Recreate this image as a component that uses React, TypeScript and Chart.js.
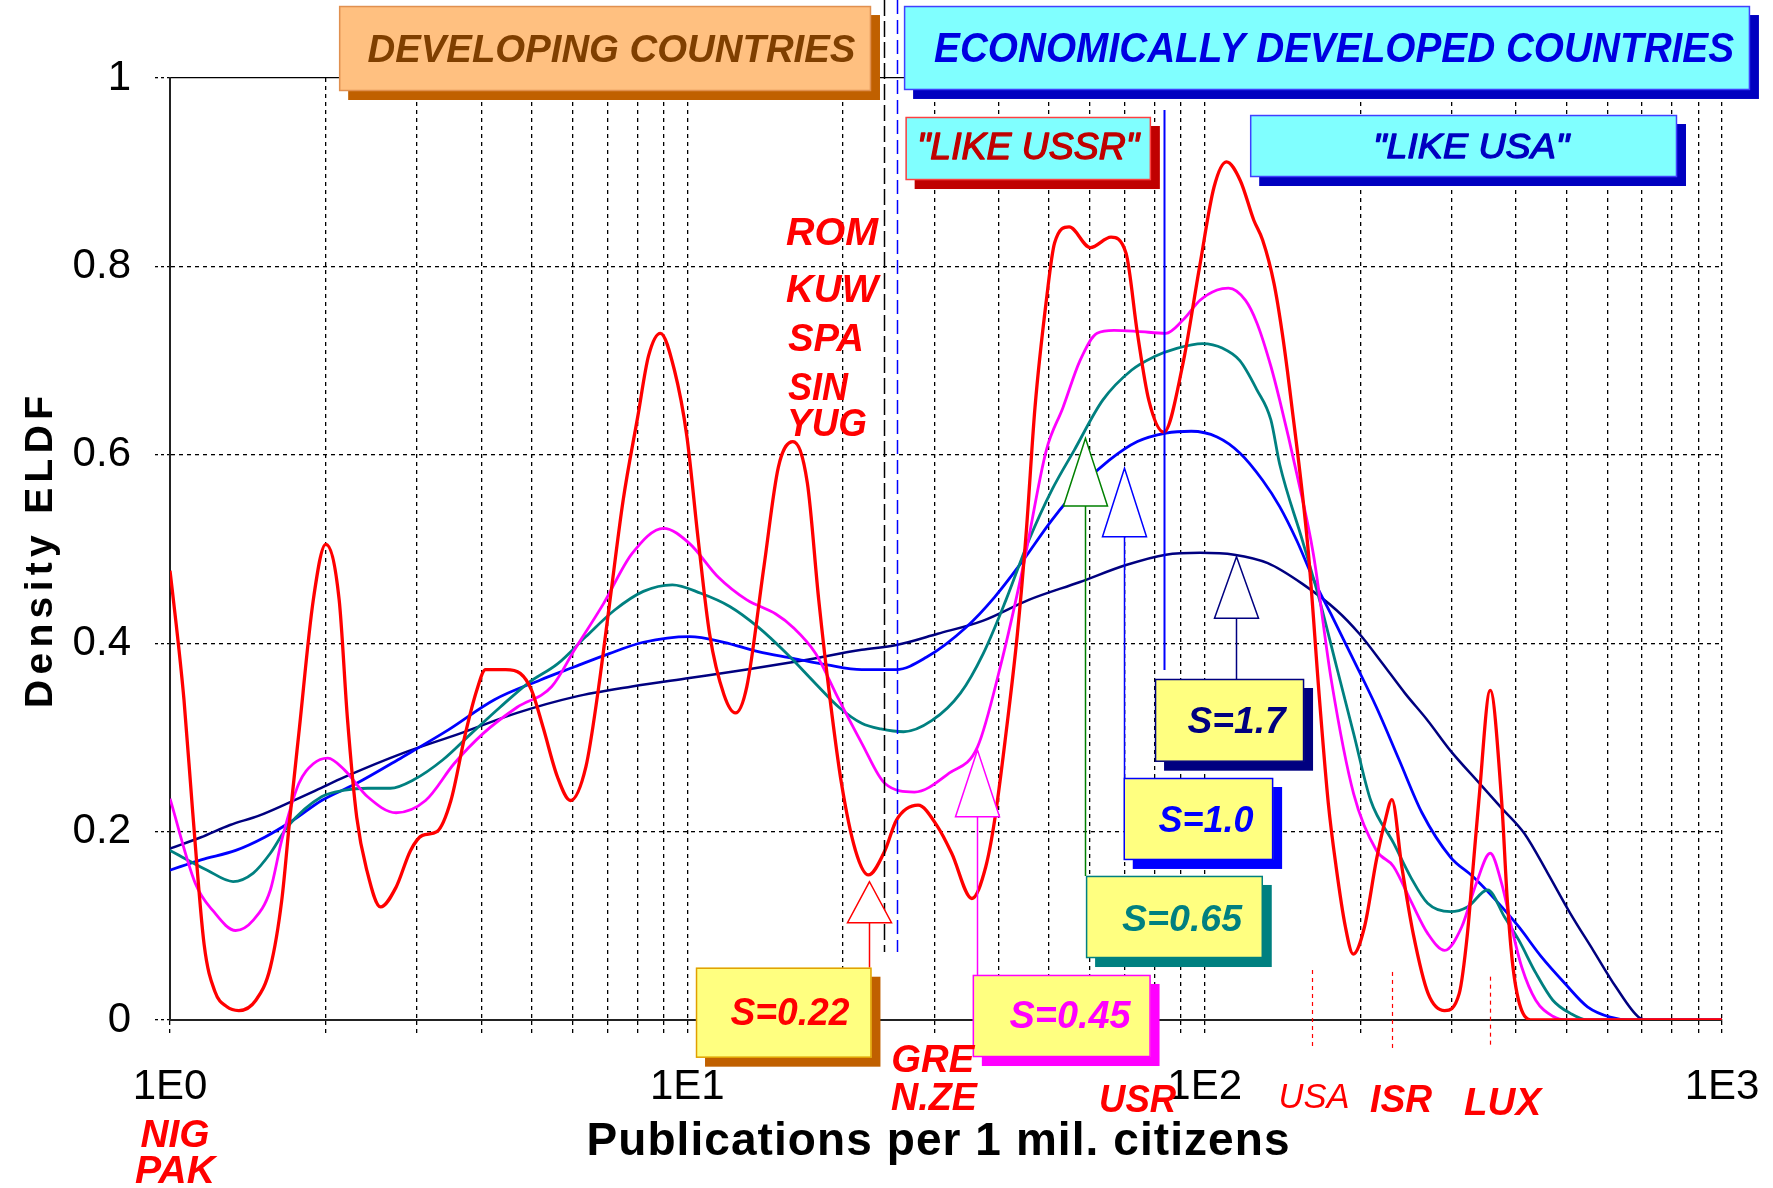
import React, { useEffect, useRef } from "react";
import { Chart, registerables } from "chart.js";

Chart.register(...registerables);

const CANVAS_W = 1773;
const CANVAS_H = 1188;
const FONT = "'Liberation Sans', Arial, sans-serif";
const NARROW = "'Liberation Sans Narrow', 'Liberation Sans', Arial, sans-serif";

// Each point: [log10(publications per 1 mil. citizens), density ELDF]
const redS022: [number, number][] = [
  [0.0, 0.477], [0.012, 0.42], [0.027, 0.34], [0.044, 0.22], [0.066, 0.08], [0.087, 0.03],
  [0.11, 0.014], [0.133, 0.01], [0.166, 0.021], [0.194, 0.056], [0.216, 0.127], [0.232, 0.216],
  [0.249, 0.304], [0.277, 0.446], [0.301, 0.505], [0.327, 0.446], [0.343, 0.32], [0.361, 0.215],
  [0.38, 0.16], [0.407, 0.12], [0.437, 0.141], [0.465, 0.18], [0.488, 0.196], [0.516, 0.2],
  [0.543, 0.233], [0.571, 0.304], [0.593, 0.35], [0.61, 0.372], [0.649, 0.372], [0.677, 0.368],
  [0.699, 0.35], [0.721, 0.311], [0.749, 0.258], [0.774, 0.233], [0.804, 0.269], [0.827, 0.347],
  [0.849, 0.439], [0.876, 0.552], [0.904, 0.64], [0.925, 0.705], [0.948, 0.729], [0.975, 0.69],
  [0.999, 0.62], [1.021, 0.51], [1.043, 0.41], [1.071, 0.345], [1.093, 0.326], [1.115, 0.354],
  [1.148, 0.481], [1.176, 0.587], [1.204, 0.614], [1.232, 0.57], [1.254, 0.446], [1.276, 0.34],
  [1.298, 0.251], [1.325, 0.18], [1.35, 0.154], [1.382, 0.18], [1.404, 0.212], [1.446, 0.228],
  [1.484, 0.205], [1.511, 0.177], [1.55, 0.129], [1.577, 0.163], [1.594, 0.212], [1.615, 0.3],
  [1.638, 0.41], [1.655, 0.517], [1.672, 0.65], [1.694, 0.764], [1.71, 0.825], [1.738, 0.842],
  [1.779, 0.82], [1.819, 0.831], [1.848, 0.814], [1.87, 0.729], [1.892, 0.658], [1.921, 0.624],
  [1.957, 0.694], [1.99, 0.799], [2.018, 0.884], [2.042, 0.911], [2.069, 0.891], [2.095, 0.849],
  [2.112, 0.828], [2.134, 0.782], [2.15, 0.729], [2.167, 0.658], [2.2, 0.499], [2.222, 0.34],
  [2.239, 0.23], [2.254, 0.163], [2.272, 0.099], [2.287, 0.07], [2.309, 0.099], [2.332, 0.17],
  [2.349, 0.212], [2.362, 0.234], [2.381, 0.163], [2.403, 0.092], [2.432, 0.028], [2.464, 0.01],
  [2.492, 0.028], [2.508, 0.092], [2.519, 0.163], [2.53, 0.233], [2.552, 0.35], [2.574, 0.233],
  [2.585, 0.127], [2.596, 0.056], [2.613, 0.01], [2.635, 0.0], [3.0, 0.0],
];

const magentaS045: [number, number][] = [
  [0.0, 0.235], [0.049, 0.145], [0.083, 0.116], [0.127, 0.095], [0.161, 0.106], [0.194, 0.138],
  [0.216, 0.191], [0.249, 0.251], [0.277, 0.272], [0.305, 0.278], [0.338, 0.265], [0.382, 0.237],
  [0.437, 0.22], [0.494, 0.233], [0.549, 0.272], [0.605, 0.304], [0.671, 0.332], [0.738, 0.354],
  [0.782, 0.393], [0.838, 0.442], [0.893, 0.495], [0.954, 0.522], [1.004, 0.506], [1.06, 0.47],
  [1.115, 0.446], [1.171, 0.431], [1.204, 0.417], [1.248, 0.389], [1.293, 0.34], [1.337, 0.294],
  [1.382, 0.251], [1.439, 0.242], [1.506, 0.262], [1.561, 0.29], [1.605, 0.375], [1.649, 0.481],
  [1.694, 0.605], [1.726, 0.65], [1.759, 0.7], [1.792, 0.729], [1.825, 0.732], [1.87, 0.731],
  [1.925, 0.729], [1.958, 0.743], [1.991, 0.764], [2.024, 0.775], [2.046, 0.777], [2.079, 0.764],
  [2.101, 0.74], [2.128, 0.694], [2.145, 0.658], [2.178, 0.58], [2.21, 0.495], [2.245, 0.36],
  [2.288, 0.24], [2.332, 0.18], [2.365, 0.163], [2.398, 0.127], [2.431, 0.092], [2.464, 0.074],
  [2.497, 0.099], [2.525, 0.145], [2.552, 0.177], [2.574, 0.145], [2.596, 0.092], [2.613, 0.056],
  [2.64, 0.021], [2.673, 0.004], [2.7, 0.0], [3.0, 0.0],
];

const tealS065: [number, number][] = [
  [0.0, 0.18], [0.072, 0.159], [0.122, 0.147], [0.161, 0.156], [0.194, 0.177], [0.227, 0.205],
  [0.293, 0.237], [0.338, 0.244], [0.382, 0.246], [0.426, 0.246], [0.471, 0.255], [0.527, 0.276],
  [0.582, 0.304], [0.638, 0.332], [0.693, 0.358], [0.749, 0.378], [0.804, 0.407], [0.859, 0.435],
  [0.915, 0.455], [0.971, 0.462], [1.026, 0.453], [1.082, 0.439], [1.137, 0.417], [1.192, 0.389],
  [1.248, 0.357], [1.293, 0.332], [1.337, 0.315], [1.374, 0.309], [1.418, 0.306], [1.473, 0.318],
  [1.528, 0.347], [1.572, 0.389], [1.616, 0.446], [1.66, 0.509], [1.705, 0.563], [1.748, 0.605],
  [1.803, 0.658], [1.859, 0.69], [1.902, 0.704], [1.946, 0.713], [1.996, 0.718], [2.035, 0.713],
  [2.068, 0.7], [2.101, 0.669], [2.128, 0.637], [2.145, 0.59], [2.189, 0.509], [2.222, 0.446],
  [2.255, 0.375], [2.288, 0.304], [2.321, 0.233], [2.365, 0.188], [2.398, 0.152], [2.431, 0.124],
  [2.475, 0.115], [2.508, 0.12], [2.547, 0.138], [2.58, 0.109], [2.607, 0.085], [2.64, 0.05],
  [2.673, 0.021], [2.707, 0.007], [2.74, 0.0], [3.0, 0.0],
];

const blueS10: [number, number][] = [
  [0.0, 0.159], [0.06, 0.17], [0.127, 0.18], [0.183, 0.194], [0.238, 0.212], [0.293, 0.233],
  [0.36, 0.251], [0.449, 0.279], [0.538, 0.308], [0.627, 0.34], [0.716, 0.361], [0.782, 0.375],
  [0.849, 0.389], [0.915, 0.401], [1.004, 0.407], [1.071, 0.401], [1.137, 0.391], [1.204, 0.384],
  [1.27, 0.377], [1.337, 0.372], [1.404, 0.372], [1.462, 0.385], [1.539, 0.417], [1.594, 0.449],
  [1.649, 0.488], [1.705, 0.531], [1.759, 0.566], [1.815, 0.594], [1.87, 0.614], [1.925, 0.623],
  [1.974, 0.625], [2.024, 0.619], [2.068, 0.602], [2.112, 0.573], [2.145, 0.545], [2.178, 0.509],
  [2.211, 0.467], [2.244, 0.431], [2.288, 0.382], [2.332, 0.332], [2.376, 0.276], [2.42, 0.22],
  [2.475, 0.173], [2.519, 0.152], [2.563, 0.127], [2.607, 0.099], [2.651, 0.067], [2.696, 0.039],
  [2.74, 0.014], [2.784, 0.003], [2.82, 0.0], [3.0, 0.0],
];

const navyS17: [number, number][] = [
  [0.0, 0.182], [0.06, 0.194], [0.116, 0.207], [0.172, 0.217], [0.227, 0.23], [0.283, 0.244],
  [0.338, 0.258], [0.449, 0.283], [0.56, 0.304], [0.671, 0.326], [0.782, 0.343], [0.893, 0.354],
  [1.004, 0.363], [1.115, 0.372], [1.226, 0.382], [1.337, 0.393], [1.404, 0.398], [1.484, 0.41],
  [1.572, 0.424], [1.66, 0.446], [1.759, 0.465], [1.848, 0.483], [1.925, 0.494], [1.991, 0.496],
  [2.057, 0.494], [2.122, 0.485], [2.189, 0.463], [2.255, 0.435], [2.299, 0.41], [2.343, 0.379],
  [2.387, 0.347], [2.431, 0.318], [2.475, 0.286], [2.53, 0.252], [2.574, 0.225], [2.618, 0.198],
  [2.663, 0.156], [2.707, 0.113], [2.751, 0.074], [2.795, 0.035], [2.839, 0.003], [2.86, 0.0],
  [3.0, 0.0],
];

const xTickValues = [
  1, 2, 3, 4, 5, 6, 7, 8, 9,
  10, 20, 30, 40, 50, 60, 70, 80, 90,
  100, 200, 300, 400, 500, 600, 700, 800, 900,
  1000,
];
const xTickLabels: Record<number, string> = { 1: "1E0", 10: "1E1", 100: "1E2", 1000: "1E3" };
const yTickValues = [0, 0.2, 0.4, 0.6, 0.8, 1];

const seriesList = [
  { label: "S=0.22", points: redS022, color: "#FF0000", width: 3.3 },
  { label: "S=0.45", points: magentaS045, color: "#FF00FF", width: 2.8 },
  { label: "S=0.65", points: tealS065, color: "#008080", width: 2.8 },
  { label: "S=1.0", points: blueS10, color: "#0000FF", width: 2.8 },
  { label: "S=1.7", points: navyS17, color: "#000080", width: 2.5 },
];

// Annotation boxes: corners and text anchor in data space (log10 x, density)
const boxes = [
  { text: "DEVELOPING COUNTRIES", e0: 0.327, e1: 1.355, v0: 1.0764, v1: 0.9862, fill: "#FFC080", border: "#E09050", shadow: "#C06000", color: "#7F3F00", te: 0.8533, tv: 1.0173, tw: 488, size: 38, weight: "bold", stroke: 0 },
  { text: "ECONOMICALLY DEVELOPED COUNTRIES", e0: 1.419, e1: 3.054, v0: 1.0764, v1: 0.9873, fill: "#80FFFF", border: "#4040FF", shadow: "#0000C0", color: "#0000E0", te: 2.2501, tv: 1.0173, tw: 800, size: 42, weight: "bold", stroke: 0 },
  { text: "\"LIKE USSR\"", e0: 1.422, e1: 1.896, v0: 0.9586, v1: 0.8917, fill: "#80FFFF", border: "#FF4040", shadow: "#C00000", color: "#C00000", te: 1.6586, tv: 0.914, tw: 222, size: 36, weight: "normal", stroke: 1.3 },
  { text: "\"LIKE USA\"", e0: 2.088, e1: 2.913, v0: 0.9607, v1: 0.8949, fill: "#80FFFF", border: "#4040FF", shadow: "#0000C0", color: "#0000C0", te: 2.515, tv: 0.9151, tw: 196, size: 35, weight: "normal", stroke: 1.3 },
  { text: "S=0.22", e0: 1.0168, e1: 1.3559, v0: 0.0555, v1: -0.04, fill: "#FFFF80", border: "#E0A000", shadow: "#C06000", color: "#FF0000", te: 1.1985, tv: -0.0053, tw: 119, size: 38, weight: "bold", stroke: 0 },
  { text: "S=0.45", e0: 1.5519, e1: 1.8954, v0: 0.0478, v1: -0.0393, fill: "#FFFF80", border: "#FF00FF", shadow: "#FF00FF", color: "#FF00FF", te: 1.7398, tv: -0.0085, tw: 121, size: 39, weight: "bold", stroke: 0 },
  { text: "S=0.65", e0: 1.7708, e1: 2.1123, v0: 0.1529, v1: 0.0658, fill: "#FFFF80", border: "#008080", shadow: "#008080", color: "#008080", te: 1.9563, tv: 0.0948, tw: 120, size: 36, weight: "bold", stroke: 0 },
  { text: "S=1.0", e0: 1.8436, e1: 2.1323, v0: 0.2569, v1: 0.1699, fill: "#FFFF80", border: "#0000FF", shadow: "#0000FF", color: "#0000FF", te: 2.0027, tv: 0.1999, tw: 95, size: 37, weight: "bold", stroke: 0 },
  { text: "S=1.7", e0: 1.9041, e1: 2.1921, v0: 0.362, v1: 0.2742, fill: "#FFFF80", border: "#000080", shadow: "#000080", color: "#000080", te: 2.0617, tv: 0.3044, tw: 98, size: 37, weight: "bold", stroke: 0 },
];

// Arrows: x position, tip, triangle base and end of stem (data space)
const arrows = [
  { e: 1.352, tip: 0.1468, base: 0.1033, end: 0.0555, color: "#FF0000" },
  { e: 1.5595, tip: 0.2866, base: 0.2158, end: 0.0478, color: "#FF00FF" },
  { e: 1.769, tip: 0.6175, base: 0.5456, end: 0.1529, color: "#008000" },
  { e: 1.8436, tip: 0.5857, base: 0.513, end: 0.2569, color: "#0000FF" },
  { e: 2.0607, tip: 0.4918, base: 0.4264, end: 0.362, color: "#000080" },
];

const guides = [
  { e: 1.38, v0: 1.0828, v1: 0.0722, color: "#000000", dash: [16, 5], width: 1.5 },
  { e: 1.4044, v0: 1.0828, v1: 0.0722, color: "#0000FF", dash: [14, 6], width: 1.5 },
  { e: 1.9207, v0: 0.966, v1: 0.3715, color: "#0000FF", dash: [], width: 2 },
  { e: 2.207, v0: 0.053, v1: -0.029, color: "#FF0000", dash: [4, 4], width: 1.2 },
  { e: 2.363, v0: 0.051, v1: -0.03, color: "#FF0000", dash: [4, 4], width: 1.2 },
  { e: 2.552, v0: 0.046, v1: -0.027, color: "#FF0000", dash: [4, 4], width: 1.2 },
];

const countryLabels = [
  { text: "ROM", e: 1.2797, v: 0.8227, w: 92, weight: "bold", size: 38 },
  { text: "KUW", e: 1.2797, v: 0.7622, w: 92, weight: "bold", size: 38 },
  { text: "SPA", e: 1.2681, v: 0.7102, w: 76, weight: "bold", size: 38 },
  { text: "SIN", e: 1.2526, v: 0.6582, w: 60, weight: "bold", size: 38 },
  { text: "YUG", e: 1.2701, v: 0.62, w: 80, weight: "bold", size: 38 },
  { text: "NIG", e: 0.0097, v: -0.1345, w: 69, weight: "bold", size: 38 },
  { text: "PAK", e: 0.0097, v: -0.173, w: 80, weight: "bold", size: 38 },
  { text: "GRE", e: 1.4744, v: -0.0549, w: 83, weight: "bold", size: 38 },
  { text: "N.ZE", e: 1.4769, v: -0.0955, w: 86, weight: "bold", size: 38 },
  { text: "USR", e: 1.8703, v: -0.0973, w: 77, weight: "bold", size: 39 },
  { text: "USA", e: 2.2115, v: -0.0934, w: 71, weight: "normal", size: 35 },
  { text: "ISR", e: 2.3797, v: -0.0973, w: 62, weight: "bold", size: 39 },
  { text: "LUX", e: 2.5759, v: -0.1008, w: 77, weight: "bold", size: 39 },
];

const X_TITLE = "Publications per 1 mil. citizens";
const Y_TITLE = "Density ELDF";

function fitText(ctx: CanvasRenderingContext2D, text: string, cx: number, baseY: number, font: string, width: number, color: string, stroke = 0) {
  ctx.save();
  ctx.font = font;
  ctx.fillStyle = color;
  ctx.textAlign = "center";
  ctx.textBaseline = "alphabetic";
  const w = ctx.measureText(text).width || 1;
  ctx.translate(cx, baseY);
  ctx.scale(width / w, 1);
  ctx.fillText(text, 0, 0);
  if (stroke > 0) {
    ctx.strokeStyle = color;
    ctx.lineWidth = stroke;
    ctx.lineJoin = "round";
    ctx.strokeText(text, 0, 0);
  }
  ctx.restore();
}

function spacedText(ctx: CanvasRenderingContext2D, text: string, cx: number, baseY: number, font: string, length: number, color: string, rotate: boolean) {
  ctx.save();
  ctx.font = font;
  ctx.fillStyle = color;
  ctx.textBaseline = "alphabetic";
  ctx.textAlign = "left";
  const anyCtx = ctx as any;
  anyCtx.letterSpacing = "0px";
  const natural = ctx.measureText(text).width;
  const sp = Math.max(0, (length - natural) / (text.length - 1));
  anyCtx.letterSpacing = sp + "px";
  ctx.translate(cx, baseY);
  if (rotate) ctx.rotate(-Math.PI / 2);
  ctx.fillText(text, -length / 2, 0);
  ctx.restore();
}

const overlayPlugin = {
  id: "overlay",
  afterDraw(chart: any) {
    const ctx: CanvasRenderingContext2D = chart.ctx;
    const xs = chart.scales.x;
    const ys = chart.scales.y;
    const px = (e: number) => xs.getPixelForValue(Math.pow(10, e));
    const py = (v: number) => ys.getPixelForValue(v);
    const area = chart.chartArea;

    ctx.save();
    for (const g of guides) {
      ctx.beginPath();
      ctx.setLineDash(g.dash);
      ctx.strokeStyle = g.color;
      ctx.lineWidth = g.width;
      const x = Math.round(px(g.e)) + 0.5;
      ctx.moveTo(x, py(g.v0));
      ctx.lineTo(x, py(g.v1));
      ctx.stroke();
    }
    ctx.setLineDash([]);

    for (const a of arrows) {
      const x = Math.round(px(a.e)) + 0.5;
      const yt = py(a.tip);
      const yb = py(a.base);
      const ye = py(a.end);
      ctx.strokeStyle = a.color;
      ctx.lineWidth = 1.5;
      ctx.beginPath();
      ctx.moveTo(x, yb);
      ctx.lineTo(x, ye);
      ctx.stroke();
      ctx.beginPath();
      ctx.moveTo(x, yt);
      ctx.lineTo(x - 22, yb);
      ctx.lineTo(x + 22, yb);
      ctx.closePath();
      ctx.fillStyle = "#FFFFFF";
      ctx.fill();
      ctx.stroke();
    }

    for (const b of boxes) {
      const x0 = px(b.e0);
      const x1 = px(b.e1);
      const y0 = py(b.v0);
      const y1 = py(b.v1);
      ctx.fillStyle = b.shadow;
      ctx.fillRect(x0 + 9, y0 + 9, x1 - x0, y1 - y0);
      ctx.fillStyle = b.fill;
      ctx.fillRect(x0, y0, x1 - x0, y1 - y0);
      ctx.strokeStyle = b.border;
      ctx.lineWidth = 1.5;
      ctx.strokeRect(x0 + 0.5, y0 + 0.5, x1 - x0 - 1, y1 - y0 - 1);
      fitText(ctx, b.text, px(b.te), py(b.tv), `italic ${b.weight} ${b.size}px ${NARROW}`, b.tw, b.color, b.stroke);
    }

    for (const c of countryLabels) {
      fitText(ctx, c.text, px(c.e), py(c.v), `italic ${c.weight} ${c.size}px ${NARROW}`, c.w, "#FF0000");
    }

    spacedText(ctx, X_TITLE, 938, 1155, `bold 46px ${FONT}`, 703, "#000000", false);
    spacedText(ctx, Y_TITLE, 52, (area.top + area.bottom) / 2 + 3, `bold 39px ${FONT}`, 312, "#000000", true);
    ctx.restore();
  },
};

export default function App() {
  const canvasRef = useRef<HTMLCanvasElement | null>(null);

  useEffect(() => {
    const canvas = canvasRef.current;
    if (!canvas) return;
    const chart = new Chart(canvas, {
      type: "line",
      data: {
        datasets: seriesList.map((s) => ({
          label: s.label,
          data: s.points.map(([e, d]) => ({ x: Math.pow(10, e), y: d })),
          borderColor: s.color,
          backgroundColor: s.color,
          borderWidth: s.width,
          pointRadius: 0,
          fill: false,
          cubicInterpolationMode: "monotone",
        })),
      },
      options: {
        animation: false,
        responsive: false,
        maintainAspectRatio: false,
        devicePixelRatio: 1,
        layout: { padding: { top: 78, right: 51, left: 0, bottom: 0 } },
        plugins: { legend: { display: false }, tooltip: { enabled: false }, title: { display: false } },
        scales: {
          x: {
            type: "logarithmic",
            min: 1,
            max: 1000,
            afterBuildTicks: (s: any) => {
              s.ticks = xTickValues.map((v) => ({ value: v, major: v in xTickLabels }));
            },
            afterFit: (s: any) => {
              s.height = 168;
              s.paddingLeft = 0;
              s.paddingRight = 0;
            },
            ticks: {
              autoSkip: false,
              maxRotation: 0,
              minRotation: 0,
              padding: 27,
              color: "#000000",
              font: { family: FONT, size: 42 },
              callback: (v: any) => xTickLabels[Number(v)] ?? "",
            },
            grid: { color: "#000000", lineWidth: 1.3, tickLength: 15, tickBorderDash: [4, 4], drawTicks: true },
            border: { display: true, color: "#222222", width: 2, dash: [4, 4] },
          },
          y: {
            type: "linear",
            min: 0,
            max: 1,
            afterBuildTicks: (s: any) => {
              s.ticks = yTickValues.map((v) => ({ value: v }));
            },
            afterFit: (s: any) => {
              s.width = 170;
              s.paddingTop = 0;
              s.paddingBottom = 0;
            },
            ticks: {
              padding: 24,
              color: "#000000",
              font: { family: FONT, size: 42 },
              callback: (v: any) => String(v),
            },
            grid: { color: "#000000", lineWidth: 1.3, tickLength: 15, tickBorderDash: [3, 3], drawTicks: true },
            border: {
              display: true,
              color: "#222222",
              width: 2,
              dash: (c: any) => (c && c.tick && c.tick.value === 1 ? [] : [4, 4]),
            },
          },
        },
      },
      plugins: [overlayPlugin],
    } as any);
    return () => chart.destroy();
  }, []);

  return (
    <div style={{ position: "fixed", left: 0, top: 0, width: CANVAS_W, height: CANVAS_H, background: "#FFFFFF" }}>
      <canvas ref={canvasRef} width={CANVAS_W} height={CANVAS_H} style={{ width: CANVAS_W, height: CANVAS_H, display: "block" }} />
    </div>
  );
}
